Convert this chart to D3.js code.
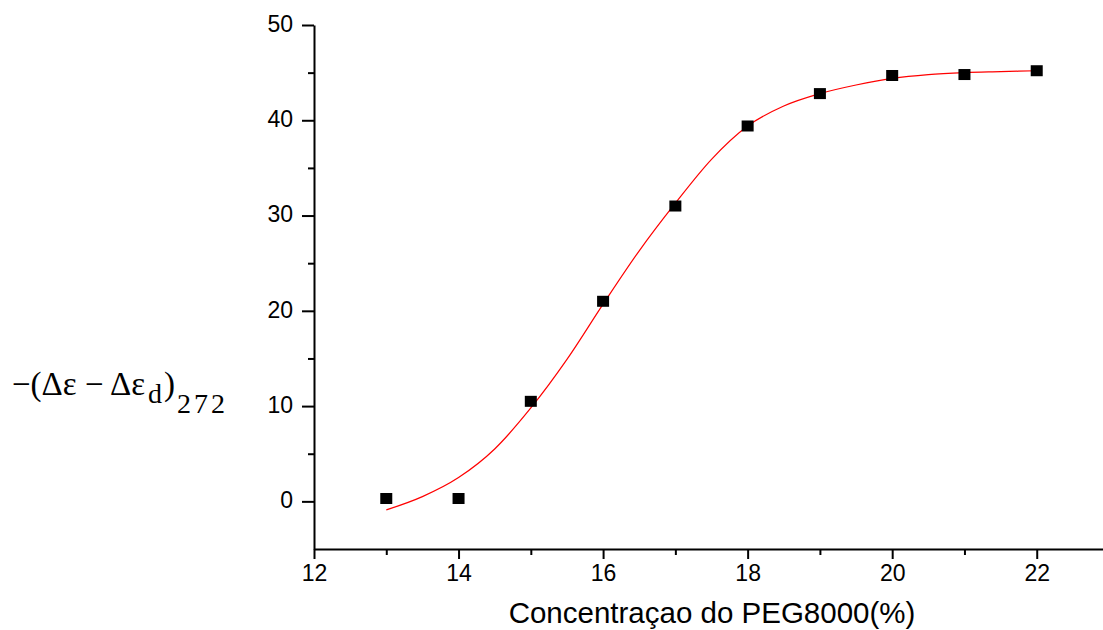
<!DOCTYPE html>
<head>
  <meta charset="utf-8">
  <style>
  body {
    margin: 0;
    background: #fff;
  }

  .axis path,
  .axis line {
    stroke: #000;
    stroke-width: 2px;
  }

  .axis text {
    font-family: "Liberation Sans", Arial, sans-serif;
    font-size: 23px;
    fill: #000;
  }

  .fit {
    fill: none;
    stroke: #ff0000;
    stroke-width: 1.2px;
  }

  .ylab {
    font-family: "Liberation Serif", "Times New Roman", serif;
    fill: #000;
  }
</style>
</head>
<body>
<svg class="chart" width="1103" height="630"></svg>

<script src="https://cdn.jsdelivr.net/npm/d3@7"></script>
<script>
// measured points
var conc = [13, 14, 15, 16, 17, 18, 19, 20, 21, 22];
var signal = [0.3, 0.3, 10.5, 21.0, 31.0, 39.4, 42.8, 44.7, 44.8, 45.2];

// fitted curve
var fitX = [13, 13.5, 14, 14.5, 15, 15.5, 16, 16.5, 17, 17.5, 18, 18.5, 19, 19.5, 20, 20.5, 21, 21.5, 22];
var fitY = [-0.9, 0.5, 2.5, 5.5, 9.8, 14.9, 20.7, 26.3, 31.3, 35.9, 39.4, 41.5, 42.8, 43.7, 44.4, 44.8, 45.0, 45.1, 45.2];

var xMajor = [12, 14, 16, 18, 20, 22];
var xMinor = [13, 15, 17, 19, 21, 23];
var yMajor = [0, 10, 20, 30, 40, 50];
var yMinor = [5, 15, 25, 35, 45];

var svg = d3.select("svg"),
  margin = { top: 25, right: -6, bottom: 81, left: 314 },
  width = svg.attr("width") - margin.left - margin.right,
  height = svg.attr("height") - margin.top - margin.bottom,
  g = svg
    .append("g")
    .attr("transform", "translate(" + margin.left + "," + margin.top + ")");

var x = d3.scaleLinear().domain([12, 23]).range([0, width]),
  y = d3.scaleLinear().domain([-5, 50]).range([height, 0]);

// x axis
g
  .append("g")
  .attr("class", "axis axis--x")
  .attr("transform", "translate(0," + height + ")")
  .call(d3.axisBottom(x).tickValues(xMajor).tickSize(10).tickSizeOuter(0).tickPadding(6));

g
  .append("g")
  .attr("class", "axis axis--x-minor")
  .attr("transform", "translate(0," + height + ")")
  .call(d3.axisBottom(x).tickValues(xMinor).tickSize(6).tickSizeOuter(0).tickFormat(""))
  .select(".domain")
  .remove();

// y axis
g
  .append("g")
  .attr("class", "axis axis--y")
  .call(d3.axisLeft(y).tickValues(yMajor).tickSize(12).tickSizeOuter(0).tickPadding(9))
  .selectAll("text")
  .attr("dy", "0.28em");

g
  .append("g")
  .attr("class", "axis axis--y-minor")
  .call(d3.axisLeft(y).tickValues(yMinor).tickSize(6).tickSizeOuter(0).tickFormat(""))
  .select(".domain")
  .remove();

// fitted line
var line = d3
  .line()
  .curve(d3.curveMonotoneX)
  .x(function(d) {
    return x(d[0]);
  })
  .y(function(d) {
    return y(d[1]);
  });

g
  .append("path")
  .attr("class", "fit")
  .attr("d", line(d3.zip(fitX, fitY)));

// square markers
g
  .selectAll(".pt")
  .data(d3.zip(conc, signal))
  .enter()
  .append("rect")
  .attr("class", "pt")
  .attr("x", function(d) {
    return x(d[0]) - 6;
  })
  .attr("y", function(d) {
    return y(d[1]) - 5.5;
  })
  .attr("width", 12)
  .attr("height", 11)
  .attr("fill", "#000");

// axis titles
svg
  .append("text")
  .attr("x", 712)
  .attr("y", 623)
  .attr("text-anchor", "middle")
  .style("font-family", '"Liberation Sans", Arial, sans-serif')
  .style("font-size", "29.5px")
  .text("Concentraçao do PEG8000(%)");

var ylab = svg.append("text").attr("class", "ylab");

ylab
  .append("tspan")
  .attr("x", 12)
  .attr("y", 395)
  .style("font-size", "33px")
  .text("\u2212(\u0394\u03b5 \u2212 \u0394\u03b5");
ylab
  .append("tspan")
  .attr("x", 148)
  .attr("y", 403)
  .style("font-size", "28px")
  .text("d");
ylab
  .append("tspan")
  .attr("x", 164)
  .attr("y", 395)
  .style("font-size", "33px")
  .text(")");
ylab
  .append("tspan")
  .attr("x", 177)
  .attr("y", 413)
  .style("font-size", "28px")
  .style("letter-spacing", "3px")
  .text("272");
</script>
</body>
